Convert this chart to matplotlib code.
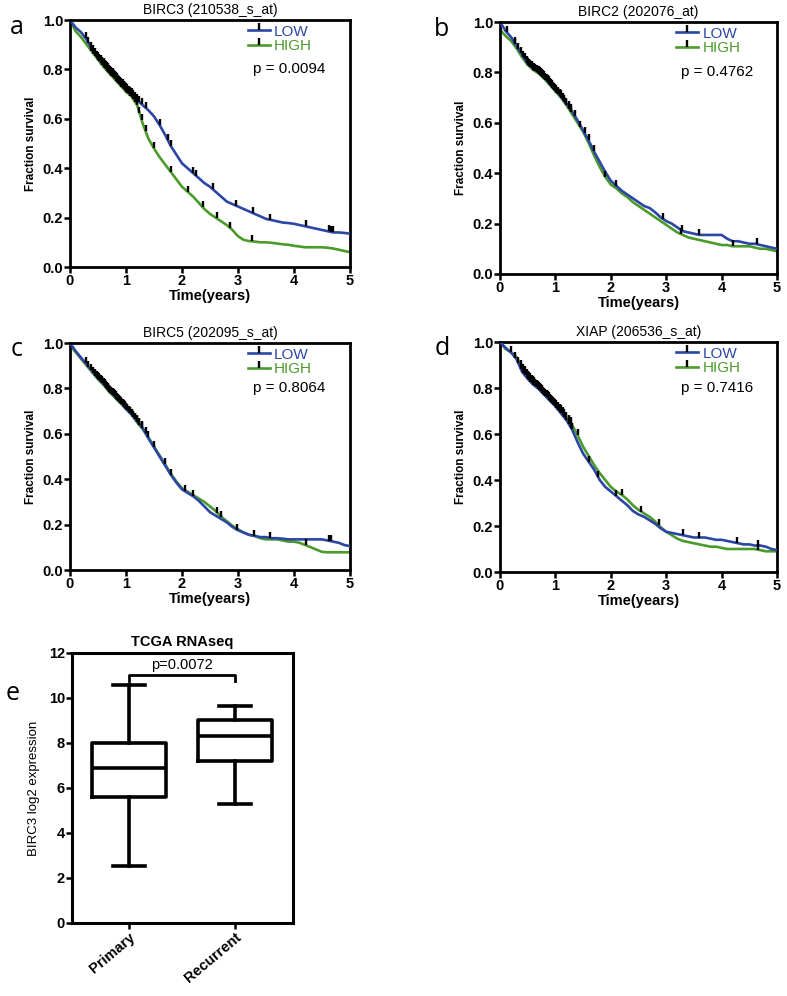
import numpy as np
import matplotlib
matplotlib.use('Agg')
import matplotlib.pyplot as plt
from matplotlib.lines import Line2D
from matplotlib.ticker import FormatStrFormatter

plt.rcParams['font.family'] = ['Liberation Sans', 'DejaVu Sans']

BLUE = '#2b46a6'
GREEN = '#4b9b2a'

# survival every 0.1 year (0 .. 5)
time_years = np.round(np.arange(51) * 0.1, 1)

birc3_low = [1.00, 0.97, 0.95, 0.92, 0.88, 0.845, 0.82, 0.795, 0.77, 0.745,
             0.72, 0.70, 0.675, 0.655, 0.635, 0.61, 0.575, 0.535, 0.49, 0.455,
             0.42, 0.40, 0.38, 0.36, 0.34, 0.325, 0.305, 0.285, 0.265, 0.255,
             0.245, 0.235, 0.225, 0.215, 0.205, 0.195, 0.19, 0.185, 0.18, 0.178,
             0.175, 0.17, 0.165, 0.16, 0.155, 0.15, 0.145, 0.14, 0.14, 0.138, 0.135]
birc3_high = [1.00, 0.955, 0.93, 0.90, 0.87, 0.84, 0.81, 0.785, 0.76, 0.735,
              0.71, 0.69, 0.655, 0.58, 0.52, 0.48, 0.445, 0.415, 0.385, 0.355,
              0.325, 0.305, 0.285, 0.26, 0.235, 0.215, 0.20, 0.185, 0.17, 0.15,
              0.125, 0.11, 0.105, 0.103, 0.10, 0.10, 0.098, 0.095, 0.092, 0.09,
              0.086, 0.083, 0.08, 0.08, 0.08, 0.08, 0.078, 0.075, 0.07, 0.065, 0.06]

birc2_low = [1.0, 0.965, 0.94, 0.905, 0.87, 0.835, 0.815, 0.80, 0.78, 0.755,
             0.73, 0.705, 0.675, 0.645, 0.61, 0.57, 0.53, 0.485, 0.445, 0.405,
             0.37, 0.35, 0.33, 0.315, 0.30, 0.285, 0.27, 0.262, 0.245, 0.225,
             0.21, 0.20, 0.185, 0.17, 0.165, 0.16, 0.155, 0.155, 0.155, 0.155,
             0.155, 0.14, 0.13, 0.13, 0.125, 0.12, 0.12, 0.115, 0.11, 0.105, 0.10]
birc2_high = [0.97, 0.945, 0.925, 0.895, 0.86, 0.83, 0.81, 0.795, 0.775, 0.75,
              0.725, 0.70, 0.67, 0.635, 0.60, 0.565, 0.52, 0.47, 0.425, 0.385,
              0.355, 0.34, 0.32, 0.305, 0.285, 0.27, 0.255, 0.24, 0.225, 0.21,
              0.195, 0.18, 0.165, 0.155, 0.145, 0.14, 0.135, 0.13, 0.125, 0.12,
              0.115, 0.115, 0.11, 0.11, 0.11, 0.11, 0.105, 0.10, 0.10, 0.095, 0.09]

birc5_low = [1.0, 0.965, 0.935, 0.905, 0.875, 0.845, 0.82, 0.79, 0.765, 0.74,
             0.71, 0.685, 0.655, 0.625, 0.58, 0.54, 0.50, 0.46, 0.42, 0.385,
             0.355, 0.34, 0.325, 0.305, 0.28, 0.255, 0.24, 0.225, 0.21, 0.19,
             0.175, 0.165, 0.155, 0.15, 0.145, 0.145, 0.14, 0.14, 0.138, 0.135,
             0.135, 0.135, 0.135, 0.135, 0.135, 0.135, 0.13, 0.125, 0.12, 0.11, 0.105]
birc5_high = [0.99, 0.96, 0.93, 0.90, 0.87, 0.84, 0.815, 0.785, 0.76, 0.735,
              0.71, 0.685, 0.65, 0.62, 0.585, 0.545, 0.505, 0.465, 0.425, 0.39,
              0.36, 0.345, 0.33, 0.315, 0.30, 0.28, 0.26, 0.235, 0.215, 0.195,
              0.18, 0.165, 0.155, 0.15, 0.14, 0.135, 0.135, 0.135, 0.13, 0.125,
              0.125, 0.12, 0.11, 0.10, 0.09, 0.08, 0.078, 0.078, 0.078, 0.078, 0.078]

xiap_low = [1.0, 0.975, 0.955, 0.925, 0.87, 0.84, 0.815, 0.795, 0.77, 0.745,
            0.72, 0.69, 0.66, 0.62, 0.565, 0.515, 0.48, 0.445, 0.40, 0.37,
            0.35, 0.33, 0.31, 0.29, 0.265, 0.25, 0.24, 0.225, 0.21, 0.19,
            0.175, 0.17, 0.165, 0.16, 0.155, 0.15, 0.15, 0.15, 0.145, 0.14,
            0.14, 0.135, 0.13, 0.125, 0.12, 0.12, 0.115, 0.115, 0.11, 0.10, 0.095]
xiap_high = [1.0, 0.97, 0.955, 0.935, 0.885, 0.85, 0.825, 0.80, 0.775, 0.75,
             0.725, 0.70, 0.67, 0.64, 0.595, 0.545, 0.505, 0.465, 0.43, 0.40,
             0.37, 0.35, 0.335, 0.315, 0.29, 0.27, 0.255, 0.24, 0.22, 0.195,
             0.175, 0.16, 0.145, 0.135, 0.13, 0.125, 0.12, 0.115, 0.11, 0.11,
             0.105, 0.10, 0.10, 0.10, 0.10, 0.10, 0.10, 0.095, 0.09, 0.09, 0.09]

early_censor = [0.02, 0.28, 0.33, 0.38, 0.42, 0.45, 0.48, 0.5, 0.52, 0.55, 0.57, 0.6,
                0.62, 0.64, 0.66, 0.68, 0.7, 0.72, 0.74, 0.76, 0.78, 0.8, 0.82,
                0.84, 0.86, 0.88, 0.9, 0.92, 0.94, 0.96, 0.98, 1.0, 1.02, 1.05,
                1.08, 1.1, 1.13, 1.16, 1.2, 1.24, 1.28]

birc3_low_cens = early_censor + [1.35, 1.6, 1.75, 1.8, 2.2, 2.25, 2.55, 2.96, 3.27, 3.57, 4.21, 4.62, 4.66, 4.7]
birc3_high_cens = early_censor[3:] + [1.35, 1.5, 1.8, 2.1, 2.37, 2.62, 2.86, 3.25]
birc2_low_cens = early_censor + [0.12, 0.27, 1.35, 1.53, 1.6, 1.69, 2.1, 2.95, 3.29, 3.6, 4.63]
birc2_high_cens = early_censor[6:] + [1.45, 1.9, 3.27, 4.2]
birc5_low_cens = early_censor + [1.35, 1.5, 1.8, 2.06, 2.2, 2.98, 3.28, 3.58, 4.62, 4.66]
birc5_high_cens = early_censor[5:] + [1.4, 1.7, 2.63, 2.7, 4.22]
xiap_low_cens = early_censor + [0.2, 1.3, 1.6, 1.77, 2.1, 3.3, 3.6, 4.27, 4.66]
xiap_high_cens = early_censor[3:] + [1.4, 2.2, 2.55, 2.87, 4.66]

# panel e box plot statistics (BIRC3 log2 expression)
groups = ['Primary', 'Recurrent']
whisker_low = [2.55, 5.3]
quart1 = [5.62, 7.22]
median = [6.87, 8.32]
quart3 = [8.0, 9.0]
whisker_high = [10.58, 9.65]


def km_panel(ax, low, high, low_cens, high_cens, title, pval, letter):
    ax.plot(time_years, low, color=BLUE, lw=1.9, zorder=3)
    ax.plot(time_years, high, color=GREEN, lw=1.9, zorder=2)
    for cens, surv in [(low_cens, low), (high_cens, high)]:
        cens = np.array(cens)
        ax.plot(cens, np.interp(cens, time_years, surv), ls='none', marker=2,
                ms=4.5, mew=1.7, color='black', zorder=4)

    ax.set_xlim(0, 5)
    ax.set_ylim(0, 1.0)
    ax.set_xticks(range(0, 6))
    ax.set_yticks([0, 0.2, 0.4, 0.6, 0.8, 1.0])
    ax.yaxis.set_major_formatter(FormatStrFormatter('%.1f'))
    ax.tick_params(direction='out', length=4, width=1.8, labelsize=10.5, pad=1)
    for lbl in ax.get_xticklabels() + ax.get_yticklabels():
        lbl.set_fontweight('bold')
    for sp in ax.spines.values():
        sp.set_linewidth(2.0)

    ax.set_xlabel('Time(years)', fontsize=10.5, fontweight='bold', labelpad=1)
    ax.set_ylabel('Fraction survival', fontsize=8.5, fontweight='bold', labelpad=4)
    ax.set_title(title, fontsize=10, pad=4)

    handles = [Line2D([], [], color=BLUE, lw=1.9, marker=2, mec='black', ms=5, mew=1.7),
               Line2D([], [], color=GREEN, lw=1.9, marker=2, mec='black', ms=5, mew=1.7)]
    leg = ax.legend(handles, ['LOW', 'HIGH'], loc='upper left', bbox_to_anchor=(0.62, 1.0),
                    frameon=False, fontsize=11, handlelength=1.4, handletextpad=0.3,
                    labelspacing=0.05, borderaxespad=0.1, borderpad=0.2, numpoints=1)
    for txt, col in zip(leg.get_texts(), [BLUE, GREEN]):
        txt.set_color(col)
    ax.text(0.655, 0.80, 'p = ' + pval, transform=ax.transAxes, fontsize=11,
            va='center', ha='left')
    ax.text(-0.19, 0.97, letter, transform=ax.transAxes, fontsize=18,
            family=['Open Sans', 'DejaVu Sans'], va='center', ha='center')


fig = plt.figure(figsize=(7.87, 9.96), dpi=100)

ax_a = fig.add_axes([0.0889, 0.7319, 0.3558, 0.248])
ax_b = fig.add_axes([0.6353, 0.7249, 0.352, 0.253])
ax_c = fig.add_axes([0.0889, 0.4277, 0.3558, 0.2279])
ax_d = fig.add_axes([0.6353, 0.4257, 0.352, 0.2309])
ax_e = fig.add_axes([0.0915, 0.0733, 0.2808, 0.2711])

km_panel(ax_a, birc3_low, birc3_high, birc3_low_cens, birc3_high_cens,
         'BIRC3 (210538_s_at)', '0.0094', 'a')
km_panel(ax_b, birc2_low, birc2_high, birc2_low_cens, birc2_high_cens,
         'BIRC2 (202076_at)', '0.4762', 'b')
km_panel(ax_c, birc5_low, birc5_high, birc5_low_cens, birc5_high_cens,
         'BIRC5 (202095_s_at)', '0.8064', 'c')
km_panel(ax_d, xiap_low, xiap_high, xiap_low_cens, xiap_high_cens,
         'XIAP (206536_s_at)', '0.7416', 'd')
ax_b.texts[-1].set_x(-0.21)
ax_d.texts[-1].set_x(-0.21)

# panel e
stats = []
for i, g in enumerate(groups):
    stats.append(dict(label=g, whislo=whisker_low[i], q1=quart1[i], med=median[i],
                      q3=quart3[i], whishi=whisker_high[i]))
lw = 2.6
ax_e.bxp(stats, positions=[1, 2], widths=0.7, capwidths=0.3, showfliers=False,
         boxprops=dict(lw=lw, color='black'), whiskerprops=dict(lw=lw, color='black'),
         capprops=dict(lw=lw, color='black'), medianprops=dict(lw=lw, color='black'))
ax_e.set_xlim(0.46, 2.55)
ax_e.set_ylim(0, 12)
ax_e.set_yticks(range(0, 13, 2))
ax_e.set_xticks([1, 2])
ax_e.set_xticklabels(groups, rotation=40, ha='right', rotation_mode='anchor',
                     fontsize=10.5, fontweight='bold')
ax_e.tick_params(direction='out', length=4, width=1.8, labelsize=10.5, pad=1)
for lbl in ax_e.get_yticklabels():
    lbl.set_fontweight('bold')
for sp in ax_e.spines.values():
    sp.set_linewidth(2.2)
ax_e.set_ylabel('BIRC3 log2 expression', fontsize=9.5, labelpad=6)
ax_e.set_title('TCGA RNAseq', fontsize=10.5, fontweight='bold', pad=5)

bracket_y = 11.0
bracket_drop = 0.25
ax_e.plot([1, 1, 2, 2], [bracket_y - bracket_drop, bracket_y, bracket_y, bracket_y - bracket_drop],
          color='black', lw=2)
ax_e.text(1.5, bracket_y + 0.15, 'p=0.0072', ha='center', va='bottom', fontsize=10.5)
ax_e.text(-0.27, 0.85, 'e', transform=ax_e.transAxes, fontsize=18,
          family=['Open Sans', 'DejaVu Sans'], va='center', ha='center')

fig.savefig('out.png', dpi=100)
